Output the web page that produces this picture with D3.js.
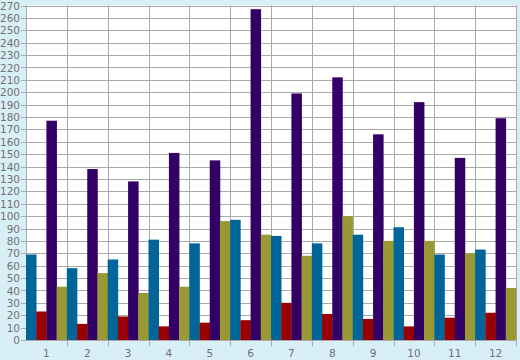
<!DOCTYPE html>
<html><head><meta charset="utf-8">
<script src="https://cdn.jsdelivr.net/npm/d3@7"></script>
<style>html,body{margin:0;padding:0;background:#d9eff7;}svg{display:block;}</style>
</head><body><svg id="c" width="520" height="360"></svg>
<script>
const categories = ["1","2","3","4","5","6","7","8","9","10","11","12"];
const seriesNames = ["A","B","C","D"];
const seriesA = [69,58,65,81,78,97,84,78,85,91,69,73];
const seriesB = [23,13,19,11,14,16,30,21,17,11,18,22];
const seriesC = [177,138,128,151,145,267,199,212,166,192,147,179];
const seriesD = [43,54,38,43,96,85,68,100,80,80,70,42];
const yTicks = d3.range(0,271,10);
const colors = ["#006699","#990000","#330066","#999933"];

const svg = d3.select("#c");
const L=26, R=516, T=5.5, B=340;
const x = d3.scaleBand().domain(categories).range([L,R]).padding(0);
const xs = d3.scaleBand().domain(seriesNames).range([0,x.bandwidth()]).padding(0);
const y = d3.scaleLinear().domain([0,270]).range([B,T]);

svg.append("rect").attr("x",L).attr("y",T).attr("width",R-L).attr("height",B-T).attr("fill","#fff");

// horizontal grid with small left ticks
svg.append("g").selectAll("line").data(yTicks).join("line")
  .attr("x1",L-5).attr("x2",R).attr("y1",d=>Math.round(y(d))+0.5).attr("y2",d=>Math.round(y(d))+0.5)
  .attr("stroke","#aaaaaa").attr("stroke-width",1);
// vertical grid with small bottom ticks
const bounds = categories.map(c=>x(c)).concat([R]);
svg.append("g").selectAll("line").data(bounds).join("line")
  .attr("x1",d=>Math.round(d)+0.5).attr("x2",d=>Math.round(d)+0.5).attr("y1",T)
  .attr("y2",(d,i)=> i===0 ? B : B+6)
  .attr("stroke","#aaaaaa").attr("stroke-width",1);

const data = [seriesA,seriesB,seriesC,seriesD];
const g = svg.append("g");
categories.forEach((c,i)=>{
  seriesNames.forEach((s,j)=>{
    const v=data[j][i];
    g.append("rect").attr("x",x(c)+xs(s)).attr("width",xs.bandwidth()+0.3)
      .attr("y",y(v)).attr("height",B-y(v)).attr("fill",colors[j]);
  });
});

// y axis labels
const yAxis = d3.axisLeft(y).tickValues(yTicks).tickSize(0).tickPadding(6);
const ya = svg.append("g").attr("transform",`translate(${L},0)`).call(yAxis);
ya.select(".domain").remove();
ya.selectAll("text").attr("fill","#707070").style("font-family","DejaVu Sans").style("font-size","10.5px").attr("dy","0.34em");

// x axis labels
const xAxis = d3.axisBottom(x).tickSize(0).tickPadding(10);
const xa = svg.append("g").attr("transform",`translate(0,${B})`).call(xAxis);
xa.select(".domain").remove();
xa.selectAll("text").attr("fill","#707070").style("font-family","DejaVu Sans").style("font-size","10.5px");
</script></body></html>
